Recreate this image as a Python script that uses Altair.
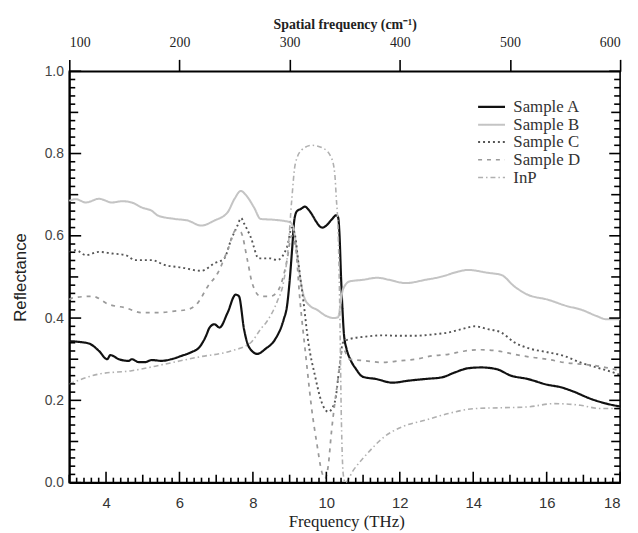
import altair as alt
import pandas as pd

series_names = ["Sample A", "Sample B", "Sample C", "Sample D", "InP"]
series_colors = ["#111111", "#c4c4c4", "#555555", "#9a9a9a", "#b0b0b0"]
series_dashes = [[1, 0], [1, 0], [2, 3], [4, 5], [5, 3, 1.5, 3]]
series_widths = [2.2, 1.6, 2.2, 2.0, 1.6]

A_x = [3.0, 3.27, 3.54, 3.81, 4.03, 4.12, 4.35, 4.62, 4.70, 4.89, 5.07, 5.24, 5.51, 5.78, 6.05, 6.32, 6.55, 6.72, 6.82, 6.95, 7.09, 7.31, 7.53, 7.62, 7.76, 7.89, 8.12, 8.34, 8.61, 8.84, 8.93, 9.0, 9.07, 9.13, 9.2, 9.3, 9.42, 9.5, 9.6, 9.72, 9.82, 9.9, 10.0, 10.15, 10.27, 10.32, 10.36, 10.40, 10.44, 10.48, 10.55, 10.65, 10.8, 11.0, 11.35, 11.80, 12.25, 12.70, 13.15, 13.50, 13.86, 14.22, 14.63, 15.03, 15.48, 16.02, 16.38, 16.74, 17.19, 17.63, 18.0]
A_y = [0.344, 0.342, 0.338, 0.32, 0.30, 0.31, 0.30, 0.296, 0.30, 0.293, 0.293, 0.298, 0.296, 0.30, 0.308, 0.317, 0.33, 0.356, 0.377, 0.385, 0.377, 0.413, 0.457, 0.453, 0.372, 0.33, 0.313, 0.325, 0.349, 0.397, 0.43, 0.49, 0.57, 0.64, 0.66, 0.665, 0.671, 0.665, 0.653, 0.635, 0.623, 0.62, 0.625, 0.64, 0.65, 0.645, 0.60, 0.50, 0.42, 0.36, 0.325, 0.30, 0.277, 0.257, 0.252, 0.243, 0.248, 0.252, 0.256, 0.268, 0.278, 0.28, 0.276, 0.26, 0.252, 0.238, 0.232, 0.221, 0.204, 0.192, 0.185]

B_x = [3.0, 3.18, 3.45, 3.81, 4.16, 4.45, 4.70, 4.97, 5.24, 5.42, 5.87, 6.23, 6.59, 6.95, 7.31, 7.50, 7.67, 7.80, 8.03, 8.21, 8.57, 9.01, 9.1, 9.2, 9.3, 9.4, 9.55, 9.73, 10.0, 10.2, 10.32, 10.38, 10.45, 10.63, 10.99, 11.39, 11.71, 12.16, 12.70, 13.15, 13.59, 13.86, 14.40, 14.76, 15.12, 15.48, 16.02, 16.56, 16.92, 17.36, 17.63, 18.0]
B_y = [0.685, 0.689, 0.681, 0.69, 0.681, 0.684, 0.681, 0.669, 0.661, 0.649, 0.641, 0.637, 0.625, 0.637, 0.657, 0.69, 0.709, 0.70, 0.669, 0.641, 0.639, 0.633, 0.62, 0.56, 0.49, 0.45, 0.43, 0.421, 0.405, 0.40, 0.402, 0.43, 0.469, 0.489, 0.493, 0.498, 0.493, 0.485, 0.493, 0.501, 0.513, 0.517, 0.51, 0.505, 0.477, 0.457, 0.445, 0.429, 0.421, 0.405, 0.397, 0.397]

C_x = [3.0, 3.18, 3.45, 3.81, 4.16, 4.53, 4.80, 5.24, 5.60, 6.05, 6.59, 6.95, 7.22, 7.40, 7.58, 7.68, 7.76, 7.94, 8.16, 8.48, 8.66, 8.93, 9.06, 9.15, 9.24, 9.37, 9.51, 9.69, 9.87, 10.05, 10.23, 10.36, 10.45, 10.63, 11.08, 11.53, 11.98, 12.43, 12.88, 13.32, 13.68, 14.05, 14.40, 14.76, 15.12, 15.57, 16.02, 16.47, 16.92, 17.36, 17.81, 18.0]
C_y = [0.56, 0.565, 0.553, 0.561, 0.557, 0.553, 0.541, 0.541, 0.529, 0.523, 0.515, 0.533, 0.545, 0.589, 0.625, 0.643, 0.63, 0.597, 0.545, 0.545, 0.541, 0.573, 0.62, 0.60, 0.533, 0.445, 0.341, 0.26, 0.196, 0.172, 0.196, 0.284, 0.34, 0.349, 0.355, 0.358, 0.357, 0.357, 0.36, 0.365, 0.373, 0.38, 0.373, 0.365, 0.341, 0.325, 0.317, 0.308, 0.292, 0.28, 0.268, 0.262]

D_x = [3.0, 3.09, 3.63, 4.08, 4.53, 4.97, 5.42, 5.87, 6.23, 6.50, 6.77, 7.04, 7.31, 7.53, 7.67, 7.85, 7.98, 8.21, 8.48, 8.70, 8.93, 9.05, 9.15, 9.28, 9.45, 9.6, 9.75, 9.87, 9.96, 10.05, 10.14, 10.3, 10.45, 10.63, 11.08, 11.53, 11.98, 12.43, 12.88, 13.32, 13.77, 14.22, 14.67, 15.12, 15.57, 16.02, 16.47, 16.92, 17.36, 18.0]
D_y = [0.445, 0.449, 0.453, 0.433, 0.425, 0.413, 0.413, 0.417, 0.421, 0.437, 0.477, 0.509, 0.565, 0.613, 0.609, 0.541, 0.485, 0.453, 0.453, 0.469, 0.541, 0.60, 0.58, 0.445, 0.30, 0.18, 0.09, 0.028, 0.01, 0.04, 0.124, 0.24, 0.325, 0.30, 0.296, 0.292, 0.296, 0.30, 0.308, 0.312, 0.32, 0.323, 0.32, 0.312, 0.305, 0.30, 0.292, 0.288, 0.284, 0.272]

InP_x = [3.0, 3.81, 4.70, 5.60, 6.50, 7.40, 7.94, 8.21, 8.39, 8.66, 8.84, 8.95, 9.06, 9.15, 9.33, 9.60, 9.91, 10.14, 10.23, 10.27, 10.32, 10.36, 10.41, 10.46, 10.52, 10.72, 11.17, 11.53, 12.07, 12.70, 13.32, 14.04, 14.76, 15.48, 16.2, 16.92, 17.46, 18.0]
InP_y = [0.24, 0.264, 0.272, 0.288, 0.305, 0.32, 0.34, 0.373, 0.393, 0.44, 0.49, 0.56, 0.69, 0.773, 0.809, 0.82, 0.813, 0.789, 0.75, 0.693, 0.613, 0.453, 0.15, 0.02, 0.0, 0.028, 0.076, 0.108, 0.136, 0.152, 0.168, 0.18, 0.182, 0.184, 0.192, 0.188, 0.18, 0.18]

bottom_labels = [4, 6, 8, 10, 12, 14, 16, 18]
left_labels = [0.0, 0.2, 0.4, 0.6, 0.8, 1.0]
top_labels = [100, 200, 300, 400, 500, 600]

all_series = [(series_names[0], A_x, A_y), (series_names[1], B_x, B_y),
              (series_names[2], C_x, C_y), (series_names[3], D_x, D_y),
              (series_names[4], InP_x, InP_y)]
rows = []
for name, xs, ys in all_series:
    assert len(xs) == len(ys), name
    for x, y in zip(xs, ys):
        rows.append({"series": name, "f": x, "R": y})
df = pd.DataFrame(rows)

W, H = 557, 416

xs_ = alt.Scale(domain=[3, 18], nice=False, zero=False)
ys_ = alt.Scale(domain=[0, 1], nice=False, zero=False)

x_axis = alt.Axis(
    values=bottom_labels, format="d", tickSize=0, labelPadding=13,
    labelFont="Liberation Sans", labelFontSize=15, labelColor="#333333",
    domainColor="black", domainWidth=2, grid=False,
    title="Frequency (THz)", titleFont="Liberation Serif",
    titleFontSize=17, titleFontWeight="normal", titleColor="#222222",
    titleX=280, titleY=31)
y_axis = alt.Axis(
    values=left_labels, format=".1f", tickSize=0, labelPadding=6,
    labelFont="Liberation Sans", labelFontSize=14, labelColor="#444444",
    domainColor="black", domainWidth=2, grid=False,
    title="Reflectance", titleFont="Liberation Sans", titleFontSize=17,
    titleFontWeight="normal", titleColor="#222222", titlePadding=15)

leg = alt.Legend(title=None, orient="none", legendX=417, legendY=26)

lines = alt.Chart(df).mark_line(interpolate="monotone").encode(
    x=alt.X("f:Q", scale=xs_, axis=x_axis),
    y=alt.Y("R:Q", scale=ys_, axis=y_axis),
    color=alt.Color("series:N", scale=alt.Scale(domain=series_names, range=series_colors), legend=leg),
    strokeDash=alt.StrokeDash("series:N", scale=alt.Scale(domain=series_names, range=series_dashes), legend=leg),
    strokeWidth=alt.StrokeWidth("series:N", scale=alt.Scale(domain=series_names, range=series_widths), legend=leg),
)

# axis minor/major ticks (pointing inward)
ks_x = list(range(15, 91))
ks_y = list(range(0, 51))
x_minor = [k / 5 for k in ks_x if k % 5 != 0]
x_mid = [k / 5 for k in ks_x if k % 5 == 0 and k % 10 != 0]
x_major = [k / 5 for k in ks_x if k % 10 == 0]
y_minor = [k / 50 for k in ks_y if k % 5 != 0]
y_mid = [k / 50 for k in ks_y if k % 5 == 0 and k % 10 != 0]
y_major = [k / 50 for k in ks_y if k % 10 == 0]


def bticks(vals, length):
    return alt.Chart(pd.DataFrame({"f": vals})).mark_rule(color="black", strokeWidth=1.6).encode(
        x=alt.X("f:Q", scale=xs_, axis=x_axis), y=alt.value(H), y2=alt.value(H - length))


def lticks(vals, length, right=False):
    x0 = W if right else 0
    x1 = W - length if right else length
    return alt.Chart(pd.DataFrame({"R": vals})).mark_rule(color="black", strokeWidth=1.6).encode(
        y=alt.Y("R:Q", scale=ys_, axis=y_axis), x=alt.value(x0), x2=alt.value(x1))


tick_layers = [bticks(x_minor, 5), bticks(x_mid, 8), bticks(x_major, 11),
               lticks(y_minor, 6), lticks(y_mid, 9), lticks(y_major, 12),
               lticks(y_minor, 6, True), lticks(y_mid, 9, True), lticks(y_major, 11, True)]

inner = alt.layer(lines, *tick_layers)

top = alt.Chart(pd.DataFrame({"cm": top_labels})).mark_point(opacity=0).encode(
    x=alt.X("cm:Q", scale=alt.Scale(domain=[100, 600], nice=False, zero=False),
            axis=alt.Axis(orient="top", values=top_labels, format="d",
                          tickSize=12, tickWidth=1.6, tickColor="black",
                          labelPadding=10, labelFont="Liberation Serif",
                          labelFontSize=14, labelColor="#222222",
                          domainColor="black", domainWidth=1.5, grid=False,
                          title="Spatial frequency (cm⁻¹)",
                          titleFont="Liberation Serif", titleFontSize=14,
                          titleFontWeight="bold", titleColor="#222222",
                          titlePadding=4))
)

chart = alt.layer(inner, top).resolve_scale(x="independent").properties(
    width=W, height=H,
    padding={"left": 62, "top": 61, "right": 10, "bottom": 50},
    autosize=alt.AutoSizeParams(type="none"),
).configure_view(stroke="black", strokeWidth=1.6).configure_legend(
    symbolType="M-1.6,0L1.6,0", symbolSize=289,
    labelFont="Liberation Serif", labelFontSize=17,
    labelColor="#333333", labelOffset=12, rowPadding=0,
    padding=0, labelLimit=200,
)

chart.save("out.html", embed_options={"renderer": "svg", "actions": False})
